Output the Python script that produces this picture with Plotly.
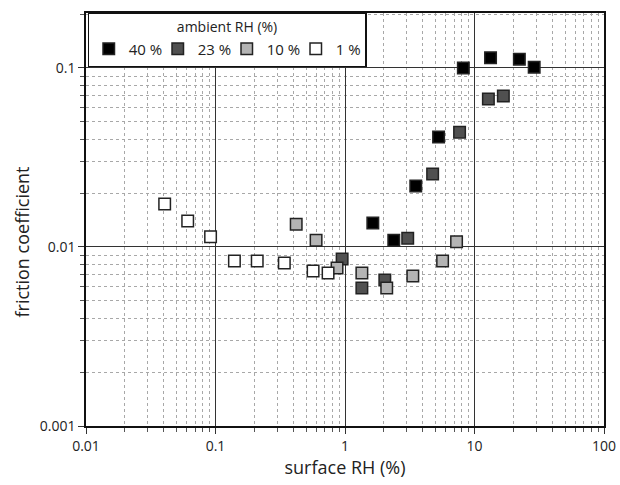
import plotly.graph_objects as go

# surface RH (%) and friction coefficient per ambient RH series
rh40_x = [1.64, 2.38, 3.52, 5.28, 8.2, 13.3, 22.2, 28.9]
rh40_y = [0.0136, 0.0109, 0.0219, 0.0412, 0.100, 0.114, 0.112, 0.101]

rh23_x = [0.95, 1.35, 2.03, 3.05, 4.75, 7.67, 12.8, 16.7]
rh23_y = [0.00857, 0.0059, 0.00655, 0.0112, 0.0256, 0.0438, 0.0671, 0.0698]

rh10_x = [0.42, 0.598, 0.868, 1.35, 2.1, 3.34, 5.67, 7.27]
rh10_y = [0.0134, 0.0109, 0.00763, 0.00716, 0.0059, 0.00689, 0.00835, 0.0107]

rh1_x = [0.0405, 0.061, 0.0916, 0.140, 0.21, 0.34, 0.567, 0.74]
rh1_y = [0.0174, 0.01396, 0.0114, 0.00835, 0.00835, 0.00814, 0.00734, 0.00716]

series_names = ["40 %", "23 %", "10 %", "1 %"]
series_colors = ["#000000", "#505050", "#b4b4b4", "#ffffff"]

x_ticks = [0.01, 0.1, 1, 10, 100]
x_ticktext = ["0.01", "0.1", "1", "10", "100"]
y_ticks = [0.001, 0.01, 0.1]
y_ticktext = ["0.001", "0.01", "0.1"]

FONT = "Open Sans"

fig = go.Figure()
for name, xs, ys, col in zip(series_names,
                             [rh40_x, rh23_x, rh10_x, rh1_x],
                             [rh40_y, rh23_y, rh10_y, rh1_y],
                             series_colors):
    fig.add_trace(go.Scatter(
        x=xs, y=ys, mode="markers", name=name,
        marker=dict(symbol="square", size=11.5, color=col,
                    line=dict(color="#222222", width=1.5)),
    ))

axis_common = dict(
    type="log", showline=True, linecolor="#111111", linewidth=1.5, mirror=True,
    showgrid=True, gridcolor="#333333", gridwidth=1,
    ticks="outside", ticklen=6, tickcolor="#333333",
    tickfont=dict(family=FONT, size=14, color="#222222"),
    zeroline=False, automargin=False,
    minor=dict(dtick="D1", showgrid=True, gridcolor="#a8a8a8", griddash="dot",
               gridwidth=1, ticks="outside", ticklen=4, tickcolor="#555555"),
)

fig.update_xaxes(range=[-2, 2], tickvals=x_ticks, ticktext=x_ticktext,
                 title=dict(text="surface RH (%)", font=dict(family=FONT, size=18, color="#222222"),
                            standoff=6),
                 **axis_common)
fig.update_yaxes(range=[-3, -0.693], tickvals=y_ticks, ticktext=y_ticktext, **axis_common)

fig.add_annotation(text="friction coefficient", xref="paper", yref="paper",
                   x=-0.123, y=0.445, xanchor="center", yanchor="middle",
                   textangle=-90, showarrow=False,
                   font=dict(family=FONT, size=18, color="#222222"))

fig.update_layout(
    width=620, height=485,
    margin=dict(l=86, r=16, t=13, b=59, autoexpand=False),
    paper_bgcolor="white", plot_bgcolor="white",
    font=dict(family=FONT, color="#222222"),
    legend=dict(
        title=dict(text="ambient RH (%)", side="top center",
                   font=dict(family=FONT, size=14, color="#222222")),
        orientation="h", x=0.003, y=1.0, xanchor="left", yanchor="top",
        bgcolor="white", bordercolor="#111111", borderwidth=1.2,
        font=dict(family=FONT, size=15, color="#222222"),
        entrywidth=24, entrywidthmode="pixels",
        tracegroupgap=0, itemwidth=30,
    ),
)

fig.write_html("out.html", config={"displayModeBar": False},
               post_script="document.body.style.margin='0';document.body.style.overflow='hidden';")
